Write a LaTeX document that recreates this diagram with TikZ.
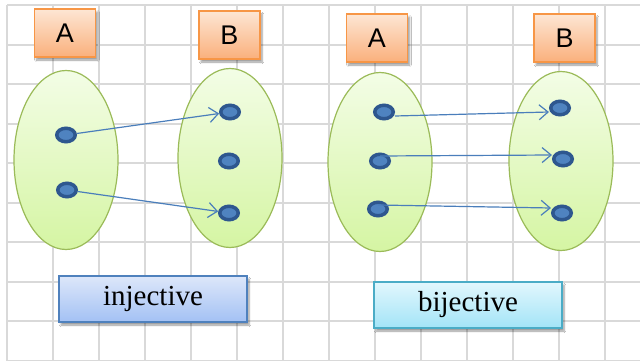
\documentclass[tikz,border=0pt]{standalone}
\usepackage{fontspec}
\setmainfont{Liberation Serif}
\newfontfamily\setfont{Liberation Sans}
\usetikzlibrary{arrows.meta,shapes.geometric,shadows.blur}
\definecolor{gridgray}{HTML}{D9D9D9}
\definecolor{setgreen}{HTML}{9BBB59}
\definecolor{settop}{HTML}{F3FDE6}
\definecolor{setbottom}{HTML}{D5F5A3}
\definecolor{dotdark}{HTML}{2E578F}
\definecolor{dotlight}{HTML}{4F83C0}
\definecolor{arrowblue}{HTML}{4A7EBB}
\definecolor{orangeline}{HTML}{F79646}
\definecolor{orangetop}{HTML}{FDE6D4}
\definecolor{orangebottom}{HTML}{FAB07C}
\definecolor{injline}{HTML}{4F81BD}
\definecolor{injtop}{HTML}{DDE7FA}
\definecolor{injbottom}{HTML}{A3C1F4}
\definecolor{bijline}{HTML}{4BACC6}
\definecolor{bijtop}{HTML}{E2F7FD}
\definecolor{bijbottom}{HTML}{A3E4F7}
\tikzset{
	setname/.style={draw=orangeline, line width=1.2pt, top color=orangetop, bottom color=orangebottom,
			minimum width=61pt, minimum height=48pt, inner sep=0pt, font=\setfont\fontsize{27}{30}\selectfont,
			blur shadow={shadow xshift=2pt, shadow yshift=-3pt, shadow blur steps=6}},
	setbody/.style={ellipse, draw=setgreen, line width=1.2pt, top color=settop, bottom color=setbottom,
			minimum width=104pt, minimum height=179pt, inner sep=0pt},
	elem/.style={ellipse, draw=dotdark, line width=3.5pt, fill=dotlight, minimum width=18.5pt, minimum height=13.5pt, inner sep=0pt},
	mapsto/.style={-{Straight Barb[length=9pt,width=15pt]}, draw=arrowblue, line width=1.2pt},
	kindbox/.style={draw, line width=1.2pt, minimum width=188pt, minimum height=46pt, inner sep=0pt,
			font=\fontsize{29}{32}\selectfont,
			blur shadow={shadow xshift=2pt, shadow yshift=-3pt, shadow blur steps=6}}
}

\begin{document}
\begin{tikzpicture}[x=1pt, y=-1pt]
        \useasboundingbox (0,0) rectangle (640,361);
        \fill[white] (0,0) rectangle (640,361);

        % Grid paper
        \foreach \gx in {0,...,13}
            \draw[gridgray, line width=2pt] (7+46*\gx,5) -- (7+46*\gx,361);
        \foreach \gy in {0,...,9}
            \draw[gridgray, line width=2pt] (7,5+39.55*\gy) -- (640,5+39.55*\gy);

        % Injective: sets
        \node[setname] (lA) at (65,33) {A};
        \node[setname] (lB) at (229.5,35) {B};
        \node[setbody] (lsetA) at (66,160) {};
        \node[setbody] (lsetB) at (230,158) {};

        % Injective: elements
        \node[elem] (la1) at (66,135) {};
        \node[elem] (la2) at (67,190) {};
        \node[elem] (lb1) at (230,112) {};
        \node[elem] (lb2) at (229,161) {};
        \node[elem] (lb3) at (229,213) {};

        % Injective: arrows
        \draw[mapsto] (la1) -- (lb1);
        \draw[mapsto] (la2) -- (lb3);

        % Bijective: sets
        \node[setname] (rA) at (377,38) {A};
        \node[setname] (rB) at (564.5,38) {B};
        \node[setbody] (rsetA) at (380,162) {};
        \node[setbody] (rsetB) at (561,161) {};

        % Bijective: elements
        \node[elem] (ra1) at (384,112) {};
        \node[elem] (ra2) at (380,161) {};
        \node[elem] (ra3) at (378,209) {};
        \node[elem] (rb1) at (560,108) {};
        \node[elem] (rb2) at (563,159) {};
        \node[elem] (rb3) at (562,213) {};

        % Bijective: arrows
        \draw[mapsto] ([yshift=-4pt]ra1.east) -- ([yshift=-4pt]rb1.west);
        \draw[mapsto] ([yshift=5pt]ra2.center) -- ([yshift=4pt]rb2.west);
        \draw[mapsto] ([yshift=4pt]ra3.center) -- ([yshift=5pt]rb3.west);

        % Captions
        \node[kindbox, draw=injline, top color=injtop, bottom color=injbottom] (inj) at (153,299) {injective};
        \node[kindbox, draw=bijline, top color=bijtop, bottom color=bijbottom] (bij) at (468,305) {bijective};
    \end{tikzpicture}
\end{document}
